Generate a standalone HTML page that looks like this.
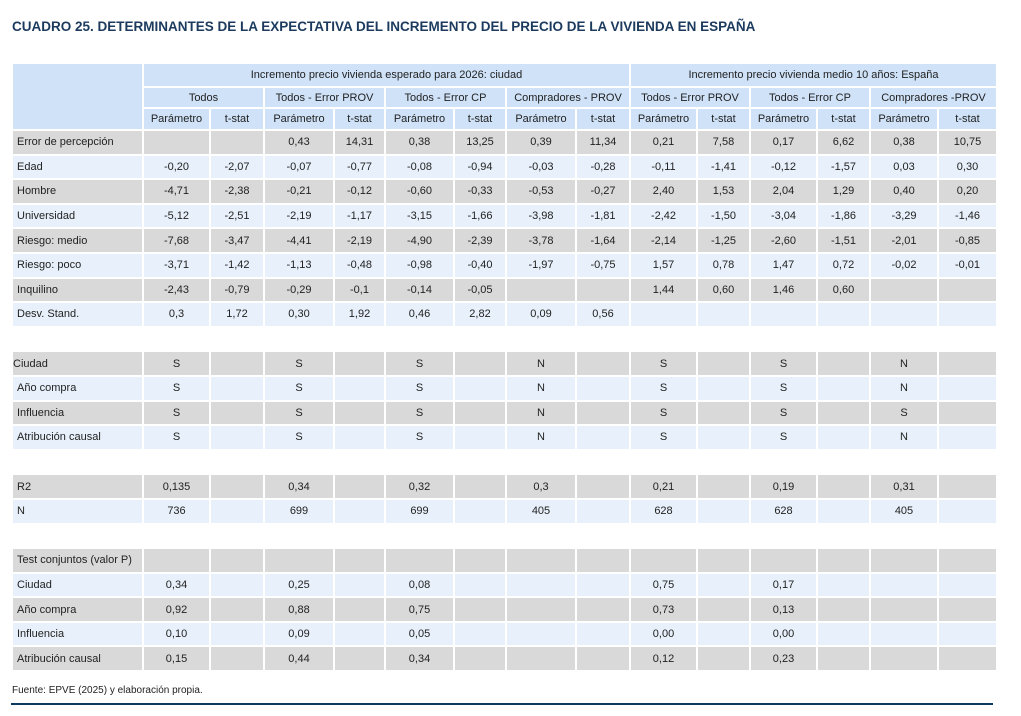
<!DOCTYPE html>
<html><head><meta charset="utf-8"><style>
body{margin:0;background:#fff;font-family:"Liberation Sans",sans-serif;width:1021px;height:716px;position:relative;overflow:hidden}
.t{position:absolute;left:12px;top:19px;font-size:13.5px;font-weight:bold;color:#1b3a5e;white-space:nowrap}
table{position:absolute;left:11px;top:62px;border-collapse:collapse;table-layout:fixed;font-size:11px;color:#222}
td{border:2px solid #fff;text-align:center;padding:0;white-space:nowrap;overflow:hidden}
td.x{text-align:left;padding-left:4px}
tr{height:24.6px}
.h td{background:#cfe2f8}
.g td{background:#d9d9d9}
.b td{background:#e8f1fb}
.s td{background:#fff}
.f{position:absolute;left:12px;top:685px;font-size:10px;color:#222}
.l{position:absolute;left:11px;top:703px;width:982px;height:2px;background:#0b3a5e}
</style></head><body>
<div class="t">CUADRO 25. DETERMINANTES DE LA EXPECTATIVA DEL INCREMENTO DEL PRECIO DE LA VIVIENDA EN ESPAÑA</div>
<table>
<colgroup><col style="width:131px"><col style="width:67px"><col style="width:54px"><col style="width:70px"><col style="width:51px"><col style="width:69px"><col style="width:52px"><col style="width:70px"><col style="width:54px"><col style="width:67px"><col style="width:53px"><col style="width:67px"><col style="width:53px"><col style="width:68px"><col style="width:59px"></colgroup>
<tr class="h" style="height:24px"><td rowspan="3"></td><td colspan="8">Incremento precio vivienda esperado para 2026: ciudad</td><td colspan="6">Incremento precio vivienda medio 10 años: España</td></tr>
<tr class="h" style="height:21px"><td colspan="2">Todos</td><td colspan="2">Todos - Error PROV</td><td colspan="2">Todos - Error CP</td><td colspan="2">Compradores - PROV</td><td colspan="2">Todos - Error PROV</td><td colspan="2">Todos - Error CP</td><td colspan="2">Compradores -PROV</td></tr>
<tr class="h" style="height:22px"><td>Parámetro</td><td>t-stat</td><td>Parámetro</td><td>t-stat</td><td>Parámetro</td><td>t-stat</td><td>Parámetro</td><td>t-stat</td><td>Parámetro</td><td>t-stat</td><td>Parámetro</td><td>t-stat</td><td>Parámetro</td><td>t-stat</td></tr>
<tr class="g"><td class="x">Error de percepción</td><td></td><td></td><td>0,43</td><td>14,31</td><td>0,38</td><td>13,25</td><td>0,39</td><td>11,34</td><td>0,21</td><td>7,58</td><td>0,17</td><td>6,62</td><td>0,38</td><td>10,75</td></tr>
<tr class="b"><td class="x">Edad</td><td>-0,20</td><td>-2,07</td><td>-0,07</td><td>-0,77</td><td>-0,08</td><td>-0,94</td><td>-0,03</td><td>-0,28</td><td>-0,11</td><td>-1,41</td><td>-0,12</td><td>-1,57</td><td>0,03</td><td>0,30</td></tr>
<tr class="g"><td class="x">Hombre</td><td>-4,71</td><td>-2,38</td><td>-0,21</td><td>-0,12</td><td>-0,60</td><td>-0,33</td><td>-0,53</td><td>-0,27</td><td>2,40</td><td>1,53</td><td>2,04</td><td>1,29</td><td>0,40</td><td>0,20</td></tr>
<tr class="b"><td class="x">Universidad</td><td>-5,12</td><td>-2,51</td><td>-2,19</td><td>-1,17</td><td>-3,15</td><td>-1,66</td><td>-3,98</td><td>-1,81</td><td>-2,42</td><td>-1,50</td><td>-3,04</td><td>-1,86</td><td>-3,29</td><td>-1,46</td></tr>
<tr class="g"><td class="x">Riesgo: medio</td><td>-7,68</td><td>-3,47</td><td>-4,41</td><td>-2,19</td><td>-4,90</td><td>-2,39</td><td>-3,78</td><td>-1,64</td><td>-2,14</td><td>-1,25</td><td>-2,60</td><td>-1,51</td><td>-2,01</td><td>-0,85</td></tr>
<tr class="b"><td class="x">Riesgo: poco</td><td>-3,71</td><td>-1,42</td><td>-1,13</td><td>-0,48</td><td>-0,98</td><td>-0,40</td><td>-1,97</td><td>-0,75</td><td>1,57</td><td>0,78</td><td>1,47</td><td>0,72</td><td>-0,02</td><td>-0,01</td></tr>
<tr class="g"><td class="x">Inquilino</td><td>-2,43</td><td>-0,79</td><td>-0,29</td><td>-0,1</td><td>-0,14</td><td>-0,05</td><td></td><td></td><td>1,44</td><td>0,60</td><td>1,46</td><td>0,60</td><td></td><td></td></tr>
<tr class="b"><td class="x">Desv. Stand.</td><td>0,3</td><td>1,72</td><td>0,30</td><td>1,92</td><td>0,46</td><td>2,82</td><td>0,09</td><td>0,56</td><td></td><td></td><td></td><td></td><td></td><td></td></tr>
<tr class="s"><td colspan="15"></td></tr>
<tr class="g"><td class="x" style="padding-left:0">Ciudad</td><td>S</td><td></td><td>S</td><td></td><td>S</td><td></td><td>N</td><td></td><td>S</td><td></td><td>S</td><td></td><td>N</td><td></td></tr>
<tr class="b"><td class="x">Año compra</td><td>S</td><td></td><td>S</td><td></td><td>S</td><td></td><td>N</td><td></td><td>S</td><td></td><td>S</td><td></td><td>N</td><td></td></tr>
<tr class="g"><td class="x">Influencia</td><td>S</td><td></td><td>S</td><td></td><td>S</td><td></td><td>N</td><td></td><td>S</td><td></td><td>S</td><td></td><td>S</td><td></td></tr>
<tr class="b"><td class="x">Atribución causal</td><td>S</td><td></td><td>S</td><td></td><td>S</td><td></td><td>N</td><td></td><td>S</td><td></td><td>S</td><td></td><td>N</td><td></td></tr>
<tr class="s"><td colspan="15"></td></tr>
<tr class="g"><td class="x">R2</td><td>0,135</td><td></td><td>0,34</td><td></td><td>0,32</td><td></td><td>0,3</td><td></td><td>0,21</td><td></td><td>0,19</td><td></td><td>0,31</td><td></td></tr>
<tr class="b"><td class="x">N</td><td>736</td><td></td><td>699</td><td></td><td>699</td><td></td><td>405</td><td></td><td>628</td><td></td><td>628</td><td></td><td>405</td><td></td></tr>
<tr class="s"><td colspan="15"></td></tr>
<tr class="g"><td class="x">Test conjuntos (valor P)</td><td></td><td></td><td></td><td></td><td></td><td></td><td></td><td></td><td></td><td></td><td></td><td></td><td></td><td></td></tr>
<tr class="b"><td class="x">Ciudad</td><td>0,34</td><td></td><td>0,25</td><td></td><td>0,08</td><td></td><td></td><td></td><td>0,75</td><td></td><td>0,17</td><td></td><td></td><td></td></tr>
<tr class="g"><td class="x">Año compra</td><td>0,92</td><td></td><td>0,88</td><td></td><td>0,75</td><td></td><td></td><td></td><td>0,73</td><td></td><td>0,13</td><td></td><td></td><td></td></tr>
<tr class="b"><td class="x">Influencia</td><td>0,10</td><td></td><td>0,09</td><td></td><td>0,05</td><td></td><td></td><td></td><td>0,00</td><td></td><td>0,00</td><td></td><td></td><td></td></tr>
<tr class="g"><td class="x">Atribución causal</td><td>0,15</td><td></td><td>0,44</td><td></td><td>0,34</td><td></td><td></td><td></td><td>0,12</td><td></td><td>0,23</td><td></td><td></td><td></td></tr>
</table>
<div class="f">Fuente: EPVE (2025) y elaboración propia.</div>
<div class="l"></div>
</body></html>
